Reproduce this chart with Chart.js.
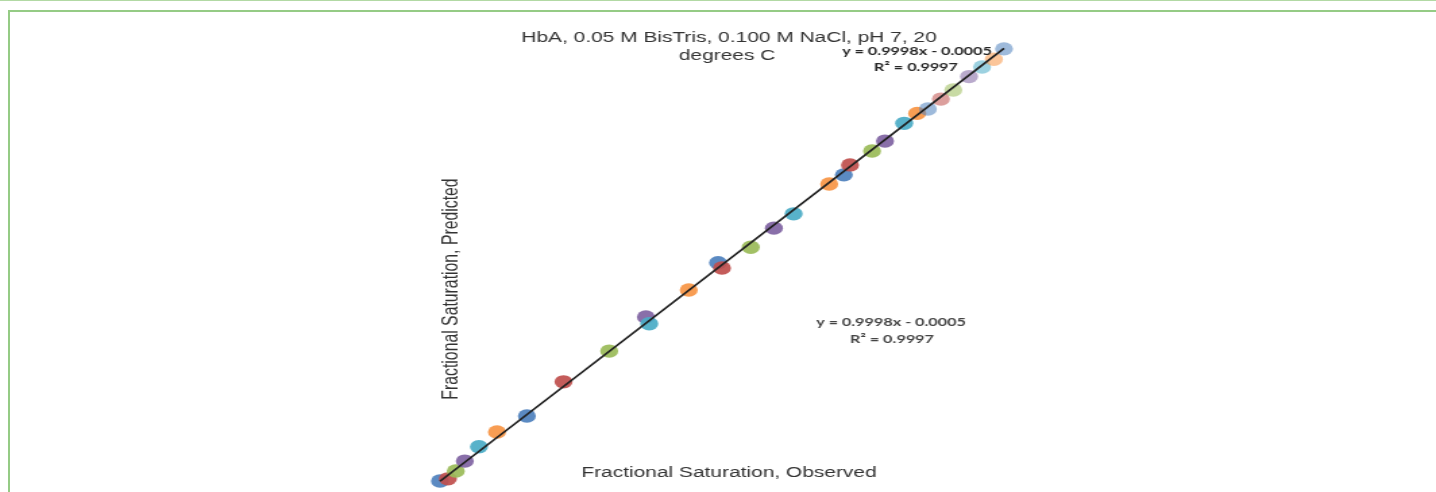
<!DOCTYPE html>
<html>
<head>
<meta charset="utf-8">
<script src="https://cdn.jsdelivr.net/npm/chart.js@4"></script>
<style>
  body { margin: 0; background: #fff; overflow: hidden; width: 1436px; height: 492px; position: relative; }
  #topline { position: absolute; left: 0; top: 0; width: 1436px; height: 1px; background: #b2d9a4; }
  #frame { position: absolute; left: 8px; top: 10px; right: 0; bottom: 0; border-top: 2px solid #95cb85; border-left: 2px solid #95cb85; }
  #chart { position: absolute; left: 0; top: 0; transform-origin: 0 0; }
</style>
</head>
<body>
<div id="topline"></div>
<div id="frame"></div>
<canvas id="chart" width="1064" height="492"></canvas>
<script>
// fractional saturation, observed vs predicted
const observed = [0.000, 0.014, 0.028, 0.044, 0.069, 0.101, 0.154, 0.219, 0.300, 0.365, 0.371, 0.441, 0.493, 0.500, 0.551, 0.592, 0.627, 0.690, 0.716, 0.727, 0.766, 0.789, 0.823, 0.846, 0.865, 0.888, 0.910, 0.938, 0.961, 0.982, 1.000];
const predicted = [0.000, 0.005, 0.023, 0.046, 0.079, 0.113, 0.150, 0.229, 0.300, 0.379, 0.363, 0.441, 0.504, 0.492, 0.540, 0.584, 0.617, 0.686, 0.707, 0.730, 0.762, 0.785, 0.826, 0.849, 0.859, 0.882, 0.903, 0.934, 0.956, 0.974, 0.998];
const slope = 0.9998;
const intercept = -0.0005;
const rSquared = 0.9997;

const SX = 1436 / 1064; // picture is stretched sideways

const baseColors = ['79, 129, 189', '192, 80, 77', '155, 187, 89', '128, 100, 162', '75, 172, 198', '247, 150, 70'];
const pointColors = observed.map((_, i) => {
  const alpha = i < 24 ? 0.93 : 0.55;
  return `rgba(${baseColors[i % 6]}, ${alpha})`;
});

const fmt = (v) => v.toFixed(4);
const eqLine = `y = ${fmt(slope)}x - ${fmt(Math.abs(intercept))}`;
const r2Line = `R\u00b2 = ${fmt(rSquared)}`;

const xMin = Math.min(...observed);
const xMax = Math.max(...observed);

const textPlugin = {
  id: 'texts',
  afterDraw(chart) {
    const ctx = chart.ctx;
    ctx.save();
    ctx.textAlign = 'center';
    ctx.textBaseline = 'middle';

    ctx.fillStyle = '#333';
    ctx.font = '15.5px "Liberation Sans", Arial, sans-serif';
    ctx.fillText('HbA, 0.05 M BisTris, 0.100 M NaCl, pH 7, 20', 729 / SX, 38);
    ctx.fillText('degrees C', 727 / SX, 56);
    ctx.fillText('Fractional Saturation, Observed', 729 / SX, 473);

    ctx.save();
    ctx.translate(451 / SX, 289);
    ctx.rotate(-Math.PI / 2);
    ctx.font = '15.8px "Liberation Sans", Arial, sans-serif';
    ctx.fillText('Fractional Saturation, Predicted', 0, 0);
    ctx.restore();

    ctx.font = 'bold 12px Lato, "Open Sans", sans-serif';
    ctx.fillStyle = '#262626';
    ctx.fillText(eqLine, 917 / SX, 51);
    ctx.fillText(r2Line, 916 / SX, 67);

    ctx.fillStyle = '#444';
    ctx.fillText(eqLine, 891 / SX, 322);
    ctx.fillText(r2Line, 892 / SX, 339);
    ctx.restore();
  },
};

const canvas = document.getElementById('chart');

new Chart(canvas, {
  type: 'scatter',
  data: {
    datasets: [
      {
        type: 'line',
        data: [
          { x: xMin, y: slope * xMin + intercept },
          { x: xMax, y: slope * xMax + intercept },
        ],
        borderColor: '#1e1e1e',
        borderWidth: 1.7,
        pointRadius: 0,
        clip: false,
        order: 0,
      },
      {
        data: observed.map((x, i) => ({ x: x, y: predicted[i] })),
        backgroundColor: pointColors,
        borderWidth: 0,
        pointRadius: 6.7,
        clip: false,
        order: 1,
      },
    ],
  },
  options: {
    responsive: false,
    animation: false,
    layout: {
      padding: { left: 440 / SX, right: 1064 - 1004 / SX, top: 48, bottom: 11 },
    },
    scales: {
      x: { type: 'linear', display: false, min: 0, max: 1 },
      y: { type: 'linear', display: false, min: 0, max: 1 },
    },
    plugins: {
      legend: { display: false },
      tooltip: { enabled: false },
    },
  },
  plugins: [textPlugin],
});

canvas.style.transform = `scaleX(${SX})`;
</script>
</body>
</html>
